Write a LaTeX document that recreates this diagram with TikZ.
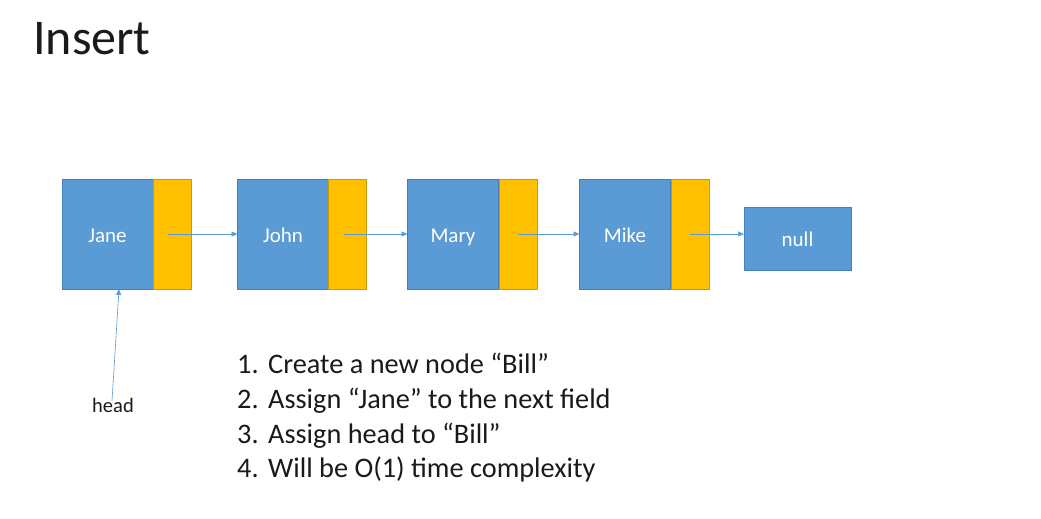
\documentclass[tikz,border=0pt]{standalone}
\usepackage{fontspec}
\setmainfont{Carlito}
\usetikzlibrary{arrows.meta}
\definecolor{cellblue}{HTML}{5B9BD5}
\definecolor{cellblueedge}{HTML}{4A7EBB}
\definecolor{cellgold}{HTML}{FFC000}
\definecolor{cellgoldedge}{HTML}{C99A0B}
\definecolor{inktext}{HTML}{1A1A1A}
\tikzset{
  datacell/.style={draw=cellblueedge, fill=cellblue, line width=0.8pt, text=white,
    font=\fontsize{21}{25}\selectfont, inner sep=0pt, outer sep=0pt,
    text height=16pt, text depth=0pt,
    minimum width=91pt, minimum height=110pt},
  ptrcell/.style={draw=cellgoldedge, fill=cellgold, line width=0.8pt,
    inner sep=0pt, outer sep=0pt, minimum width=38pt, minimum height=110pt},
  nullcell/.style={draw=cellblueedge, fill=cellblue, line width=0.8pt, text=white,
    font=\fontsize{21}{25}\selectfont, inner sep=0pt, outer sep=0pt,
    text height=16pt, text depth=0pt,
    minimum width=107pt, minimum height=63pt},
  link/.style={draw=cellblue, line width=0.6pt,
    -{Triangle[length=6pt,width=5pt]}},
  steptext/.style={anchor=base west, inner sep=0pt, text=inktext,
    font=\fontsize{28.3}{34}\selectfont},
}
\begin{document}
\begin{tikzpicture}[x=1pt,y=-1pt]
  \useasboundingbox (0,0) rectangle (1041,519);
  \fill[white] (0,0) rectangle (1041,519);

  % title
  \node[anchor=base west, inner sep=0pt, text=inktext,
        font=\fontsize{50}{60}\selectfont] (title) at (33,55) {Insert};

  % list cells: data part + next-pointer part
  \node[datacell] (jane) at (107.5,234) {Jane};
  \node[ptrcell]  (janep) at (172,234) {};
  \node[datacell] (john) at (283,234) {John};
  \node[ptrcell]  (johnp) at (347.5,234) {};
  \node[datacell] (mary) at (453,234) {Mary};
  \node[ptrcell]  (maryp) at (518,234) {};
  \node[datacell] (mike) at (625,234) {Mike};
  \node[ptrcell]  (mikep) at (690,234) {};
  \node[nullcell] (null) at (797.5,238.5) {null};

  % next links
  \draw[link] ([xshift=-4pt]janep.center) -- (john.west);
  \draw[link] ([xshift=-4pt]johnp.center) -- (mary.west);
  \draw[link] (maryp.center) -- (mike.west);
  \draw[link] (mikep.center) -- (null.west |- mikep.center);

  % head pointer
  \node[inner sep=0pt, text=inktext, font=\fontsize{20.5}{24}\selectfont,
        anchor=base] (head) at (113,412) {head};
  \draw[link] ([xshift=-1pt,yshift=-3pt]head.north) -- ([xshift=11.5pt]jane.south);

  % steps
  \node[steptext] (n1) at (237,373) {1.};
  \node[steptext] (s1) at (268,373) {Create a new node “Bill”};
  \node[steptext] (n2) at (237,408) {2.};
  \node[steptext] (s2) at (268,408) {Assign “Jane” to the next field};
  \node[steptext] (n3) at (237,443) {3.};
  \node[steptext] (s3) at (268,443) {Assign head to “Bill”};
  \node[steptext] (n4) at (237,477) {4.};
  \node[steptext] (s4) at (268,477) {Will be O(1) time complexity};
\end{tikzpicture}
\end{document}
